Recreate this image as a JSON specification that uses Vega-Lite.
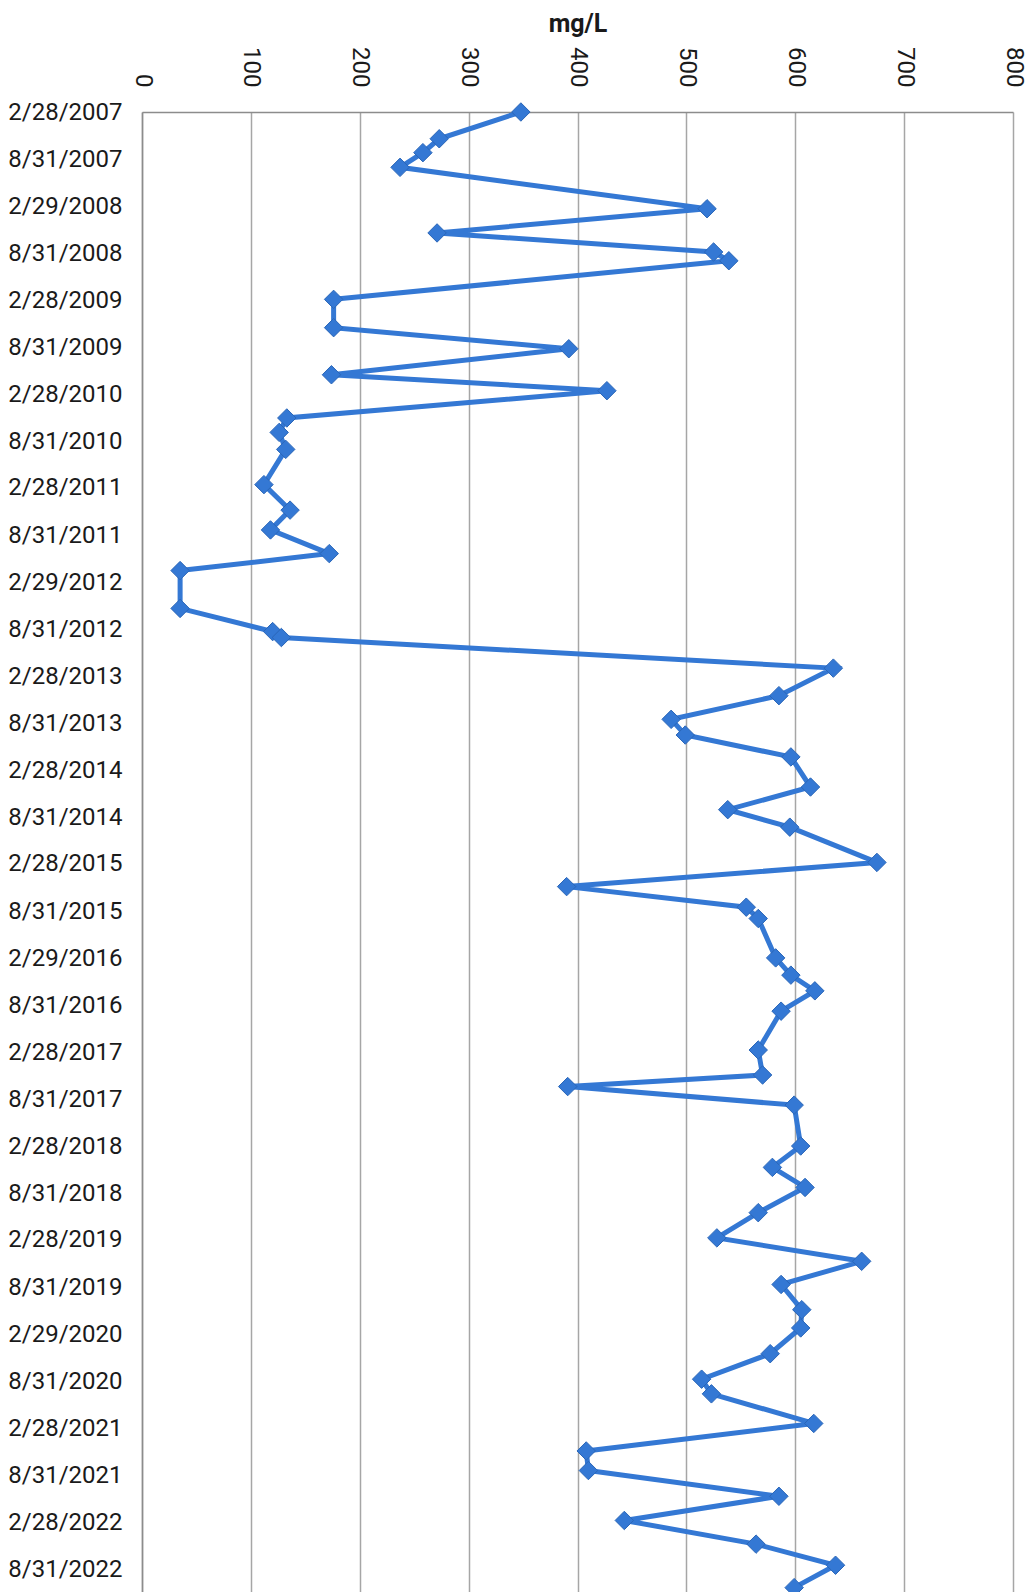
{
  "$schema": "https://vega.github.io/schema/vega-lite/v6.json",
  "autosize": {"type": "none"},
  "padding": {"left": 142, "top": 112, "right": 21, "bottom": 0},
  "width": 871,
  "height": 1480,
  "background": "white",
  "config": {"view": {"stroke": null}, "font": "Roboto"},
  "data": {"values": [
    {"date": "2007-02-28", "mgL": 348},
    {"date": "2007-06-12", "mgL": 273},
    {"date": "2007-08-05", "mgL": 258},
    {"date": "2007-10-01", "mgL": 237},
    {"date": "2008-03-10", "mgL": 519},
    {"date": "2008-06-12", "mgL": 271},
    {"date": "2008-08-25", "mgL": 525},
    {"date": "2008-09-28", "mgL": 539},
    {"date": "2009-02-25", "mgL": 176},
    {"date": "2009-06-15", "mgL": 176},
    {"date": "2009-09-05", "mgL": 392},
    {"date": "2009-12-15", "mgL": 174},
    {"date": "2010-02-15", "mgL": 427},
    {"date": "2010-06-01", "mgL": 133},
    {"date": "2010-07-27", "mgL": 126},
    {"date": "2010-10-01", "mgL": 132},
    {"date": "2011-02-15", "mgL": 112},
    {"date": "2011-05-25", "mgL": 136},
    {"date": "2011-08-10", "mgL": 118},
    {"date": "2011-11-10", "mgL": 172},
    {"date": "2012-01-15", "mgL": 35},
    {"date": "2012-06-10", "mgL": 35},
    {"date": "2012-09-08", "mgL": 120},
    {"date": "2012-10-01", "mgL": 128},
    {"date": "2013-01-28", "mgL": 635},
    {"date": "2013-05-15", "mgL": 585},
    {"date": "2013-08-15", "mgL": 486},
    {"date": "2013-10-15", "mgL": 499},
    {"date": "2014-01-08", "mgL": 596},
    {"date": "2014-05-05", "mgL": 614},
    {"date": "2014-08-01", "mgL": 538},
    {"date": "2014-10-08", "mgL": 595},
    {"date": "2015-02-22", "mgL": 675},
    {"date": "2015-05-27", "mgL": 390},
    {"date": "2015-08-15", "mgL": 555},
    {"date": "2015-09-28", "mgL": 566},
    {"date": "2016-02-28", "mgL": 582},
    {"date": "2016-05-05", "mgL": 596},
    {"date": "2016-07-05", "mgL": 618},
    {"date": "2016-09-22", "mgL": 587},
    {"date": "2017-02-20", "mgL": 566},
    {"date": "2017-05-28", "mgL": 570},
    {"date": "2017-07-12", "mgL": 391},
    {"date": "2017-09-22", "mgL": 599},
    {"date": "2018-02-28", "mgL": 605},
    {"date": "2018-05-22", "mgL": 579},
    {"date": "2018-08-08", "mgL": 609},
    {"date": "2018-11-14", "mgL": 566},
    {"date": "2019-02-20", "mgL": 528},
    {"date": "2019-05-22", "mgL": 661},
    {"date": "2019-08-20", "mgL": 587},
    {"date": "2019-11-26", "mgL": 606},
    {"date": "2020-02-05", "mgL": 605},
    {"date": "2020-05-15", "mgL": 577},
    {"date": "2020-08-22", "mgL": 514},
    {"date": "2020-10-18", "mgL": 523},
    {"date": "2021-02-10", "mgL": 617},
    {"date": "2021-05-28", "mgL": 408},
    {"date": "2021-08-12", "mgL": 410},
    {"date": "2021-11-20", "mgL": 585},
    {"date": "2022-02-22", "mgL": 443},
    {"date": "2022-05-25", "mgL": 564},
    {"date": "2022-08-15", "mgL": 637},
    {"date": "2022-11-10", "mgL": 599}
  ]},
  "encoding": {
    "x": {
      "field": "mgL", "type": "quantitative",
      "scale": {"domain": [0, 800], "nice": false},
      "axis": {
        "orient": "top", "title": "mg/L", "titleFontSize": 25, "titleFontWeight": "bold",
        "titleColor": "#1a1a1a", "titlePadding": 10, "titleFont": "Roboto",
        "values": [0, 100, 200, 300, 400, 500, 600, 700, 800],
        "labelAngle": 90, "labelFontSize": 24, "labelPadding": 25, "labelColor": "#1a1a1a",
        "labelFlush": false, "labelOverlap": false, "labelBound": false,
        "ticks": false, "grid": true, "gridColor": "#a6a6a6", "gridWidth": 1.5,
        "domainColor": "#8c8c8c", "domainWidth": 1.5
      }
    },
    "y": {
      "field": "date", "type": "temporal",
      "scale": {
        "type": "utc", "reverse": true,
        "domain": [{"year": 2007, "month": 2, "date": 28, "utc": true}, {"year": 2022, "month": 11, "date": 27, "utc": true}]
      },
      "axis": {
        "title": null, "format": "%-m/%-d/%Y",
        "values": [
          {"year": 2007, "month": 2, "date": 28, "utc": true},
          {"year": 2007, "month": 8, "date": 31, "utc": true},
          {"year": 2008, "month": 2, "date": 29, "utc": true},
          {"year": 2008, "month": 8, "date": 31, "utc": true},
          {"year": 2009, "month": 2, "date": 28, "utc": true},
          {"year": 2009, "month": 8, "date": 31, "utc": true},
          {"year": 2010, "month": 2, "date": 28, "utc": true},
          {"year": 2010, "month": 8, "date": 31, "utc": true},
          {"year": 2011, "month": 2, "date": 28, "utc": true},
          {"year": 2011, "month": 8, "date": 31, "utc": true},
          {"year": 2012, "month": 2, "date": 29, "utc": true},
          {"year": 2012, "month": 8, "date": 31, "utc": true},
          {"year": 2013, "month": 2, "date": 28, "utc": true},
          {"year": 2013, "month": 8, "date": 31, "utc": true},
          {"year": 2014, "month": 2, "date": 28, "utc": true},
          {"year": 2014, "month": 8, "date": 31, "utc": true},
          {"year": 2015, "month": 2, "date": 28, "utc": true},
          {"year": 2015, "month": 8, "date": 31, "utc": true},
          {"year": 2016, "month": 2, "date": 29, "utc": true},
          {"year": 2016, "month": 8, "date": 31, "utc": true},
          {"year": 2017, "month": 2, "date": 28, "utc": true},
          {"year": 2017, "month": 8, "date": 31, "utc": true},
          {"year": 2018, "month": 2, "date": 28, "utc": true},
          {"year": 2018, "month": 8, "date": 31, "utc": true},
          {"year": 2019, "month": 2, "date": 28, "utc": true},
          {"year": 2019, "month": 8, "date": 31, "utc": true},
          {"year": 2020, "month": 2, "date": 29, "utc": true},
          {"year": 2020, "month": 8, "date": 31, "utc": true},
          {"year": 2021, "month": 2, "date": 28, "utc": true},
          {"year": 2021, "month": 8, "date": 31, "utc": true},
          {"year": 2022, "month": 2, "date": 28, "utc": true},
          {"year": 2022, "month": 8, "date": 31, "utc": true}
        ],
        "ticks": false, "grid": false, "labelFontSize": 24, "labelColor": "#1a1a1a",
        "labelPadding": 20, "labelOverlap": false, "labelFlush": false, "labelBound": false,
        "domainColor": "#8c8c8c", "domainWidth": 1.5
      }
    }
  },
  "layer": [
    {"mark": {"type": "line", "color": "#3478d4", "strokeWidth": 5}},
    {"mark": {"type": "point", "shape": "diamond", "filled": true, "size": 340, "color": "#3478d4", "opacity": 1, "stroke": "#2a66b8", "strokeWidth": 1}}
  ]
}
